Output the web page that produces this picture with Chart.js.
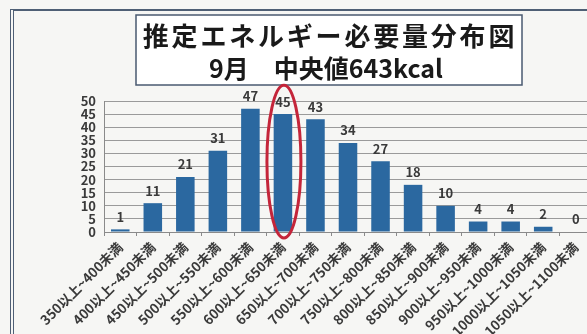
<!DOCTYPE html>
<html>
<head>
<meta charset="utf-8">
<script src="https://cdn.jsdelivr.net/npm/chart.js@4.4.1/dist/chart.umd.min.js"></script>
<style>
  html, body { margin: 0; padding: 0; overflow: hidden; background: #f6f6f4; }
  #wrap { position: absolute; left: 0; top: 0; width: 610px; height: 370px; }
  #frame { position: absolute; left: 10px; top: 9px; width: 700px; height: 400px;
           border-top: 2px solid #4f5f75; border-left: 4px double #4f5f75; }
</style>
</head>
<body>
<div id="frame"></div>
<div id="wrap"><canvas id="myChart"></canvas></div>
<script>
// 推定エネルギー必要量 区分 (kcal)
const labels = [
  '350以上~400未満', '400以上~450未満', '450以上~500未満', '500以上~550未満',
  '550以上~600未満', '600以上~650未満', '650以上~700未満', '700以上~750未満',
  '750以上~800未満', '800以上~850未満', '850以上~900未満', '900以上~950未満',
  '950以上~1000未満', '1000以上~1050未満', '1050以上~1100未満'
];
const counts = [1, 11, 21, 31, 47, 45, 43, 34, 27, 18, 10, 4, 4, 2, 0];
const titleLines = ['推定エネルギー必要量分布図', '9月　中央値643kcal'];
const highlightIndex = 5; // 中央値の区分

const barColor = '#2b68a0';
const fontJP = '"Noto Sans CJK JP", "Noto Sans", sans-serif';

// 棒の上に数値を書く + タイトル枠 + 赤い楕円
const extras = {
  id: 'extras',
  afterDraw(chart) {
    const c = chart.ctx;
    const meta = chart.getDatasetMeta(0);
    const ys = chart.scales.y;
    const xs = chart.scales.x;

    c.save();
    c.fillStyle = '#3a3a3a';
    c.font = 'bold 13px ' + fontJP;
    c.textAlign = 'center';
    c.textBaseline = 'bottom';
    meta.data.forEach((bar, i) => {
      c.fillText(String(counts[i]), bar.x, bar.y - 6);
    });

    // タイトル
    c.fillStyle = '#ffffff';
    c.strokeStyle = '#4a5a70';
    c.lineWidth = 1.5;
    c.fillRect(136, 15, 386, 70);
    c.strokeRect(136, 15, 386, 70);
    c.fillStyle = '#1a1a1a';
    c.textBaseline = 'middle';
    c.font = 'bold 26px ' + fontJP;
    c.letterSpacing = '2.8px';
    c.fillText(titleLines[0], 330, 36);
    c.letterSpacing = '0px';
    c.font = 'bold 25px ' + fontJP;
    c.fillText(titleLines[1], 326, 68);

    // 中央値の区分を囲む楕円
    const cx = xs.getPixelForValue(highlightIndex);
    const top = ys.getPixelForValue(56);
    const bottom = ys.getPixelForValue(-2.3);
    c.beginPath();
    c.ellipse(cx + 1, (top + bottom) / 2, 17, (bottom - top) / 2, 0, 0, Math.PI * 2);
    c.strokeStyle = '#c4253a';
    c.lineWidth = 3;
    c.stroke();
    c.restore();
  }
};

const ctx = document.getElementById('myChart').getContext('2d');
const myChart = new Chart(ctx, {
  type: 'bar',
  data: {
    labels: labels,
    datasets: [{
      data: counts,
      backgroundColor: barColor,
      borderWidth: 0,
      barPercentage: 0.57,
      categoryPercentage: 1.0
    }]
  },
  options: {
    responsive: true,
    maintainAspectRatio: false,
    animation: false,
    layout: { padding: { left: 64, right: 18, top: 101, bottom: 8 } },
    plugins: { legend: { display: false }, tooltip: { enabled: false } },
    scales: {
      x: {
        afterFit: s => { s.height = 130; },
        grid: { drawOnChartArea: false, drawTicks: true, tickLength: 4, color: '#8a8a8a', offset: true },
        border: { color: '#8a8a8a' },
        ticks: {
          autoSkip: false,
          maxRotation: 45,
          minRotation: 45,
          color: '#3a3a3a',
          font: { family: fontJP, size: 13.5, weight: 'bold' },
          padding: 3
        }
      },
      y: {
        min: 0,
        max: 50,
        afterFit: s => { s.width = 40; },
        grid: { color: '#9a9a9a', drawTicks: false },
        border: { color: '#8a8a8a' },
        ticks: {
          stepSize: 5,
          maxTicksLimit: 11,
          autoSkip: false,
          padding: 8,
          color: '#3a3a3a',
          font: { family: fontJP, size: 13, weight: 'bold', lineHeight: 1 }
        }
      }
    }
  },
  plugins: [extras]
});
</script>
</body>
</html>
